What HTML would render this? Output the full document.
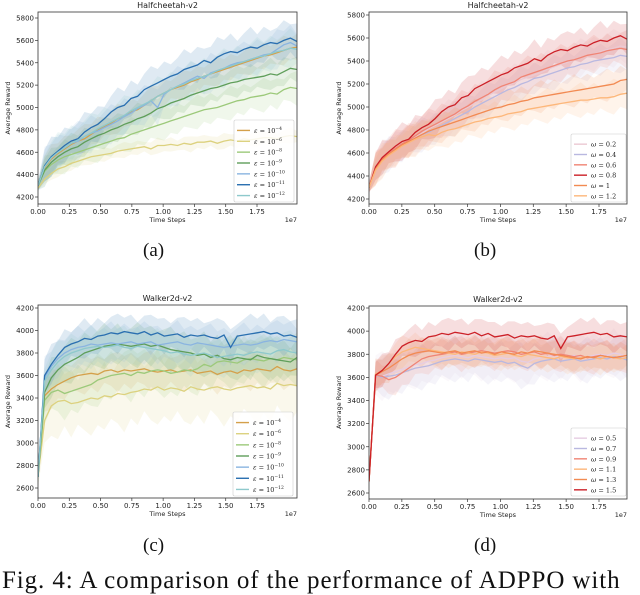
<!DOCTYPE html>
<html><head><meta charset="utf-8"><style>
body{margin:0;background:#fff;width:640px;height:587px;overflow:hidden;position:relative;font-family:"DejaVu Sans","Liberation Sans",sans-serif}
.cap{position:absolute;font-family:"Liberation Serif",serif;font-size:19px;color:#111}
</style></head><body>
<svg id="fig" width="640" height="587" style="position:absolute;left:0;top:0"></svg>
<div class="cap" style="left:143px;top:240px">(a)</div>
<div class="cap" style="left:474px;top:240px">(b)</div>
<div class="cap" style="left:143px;top:535px">(c)</div>
<div class="cap" style="left:474px;top:535px">(d)</div>
<div class="cap" style="left:2px;top:567px;font-size:25px;white-space:nowrap;letter-spacing:0.9px">Fig. 4: A comparison of the performance of ADPPO with</div>
<script>
// ---- data (mean reward per series, 40 samples each) ----
const aLabels=["-4","-6","-8","-9","-10","-11","-12"];
const aColors=["#d4a04a","#dcd17e","#9cc97a","#5f9e5a","#8ab4e0","#2a6fb0","#8ec9cc"];
const aWidths=[110,60,130,120,150,150,150];
const aE4=[4300,4460,4540,4590,4630,4670,4700,4720,4760,4800,4830,4860,4900,4920,4960,4980,5020,5060,5100,5130,5160,5180,5200,5230,5250,5280,5300,5320,5340,5360,5380,5400,5420,5440,5460,5470,5490,5510,5530,5540];
const aE6=[4280,4360,4410,4450,4470,4500,4520,4540,4560,4570,4580,4590,4610,4620,4630,4640,4650,4630,4660,4660,4670,4660,4680,4670,4690,4690,4700,4680,4700,4710,4700,4720,4710,4720,4730,4730,4720,4740,4750,4740];
const aE8=[4300,4430,4490,4530,4560,4580,4600,4620,4640,4660,4680,4700,4720,4730,4760,4780,4800,4820,4840,4860,4880,4900,4920,4940,4960,4980,4990,5000,5020,5040,5060,5070,5090,5100,5110,5130,5120,5160,5180,5170];
const aE9=[4300,4440,4510,4560,4600,4630,4650,4690,4720,4750,4770,4800,4820,4850,4870,4900,4920,4950,4990,5010,5040,5060,5080,5110,5130,5150,5170,5180,5200,5220,5230,5250,5260,5270,5280,5300,5290,5320,5350,5340];
const aE10=[4300,4470,4550,4600,4640,4680,4700,4740,4770,4790,4820,4850,4880,4920,4950,4990,5020,5060,5000,5120,5160,5190,5220,5250,5280,5260,5310,5330,5350,5380,5400,5410,5430,5450,5470,5480,5520,5560,5580,5550];
const aE11=[4300,4480,4560,4610,4660,4700,4720,4780,4820,4850,4900,4960,5000,5020,5080,5100,5160,5190,5220,5250,5280,5300,5340,5360,5380,5420,5400,5450,5480,5500,5490,5520,5540,5530,5560,5580,5570,5600,5620,5590];
const aE12=[4300,4470,4550,4600,4640,4680,4710,4740,4770,4810,4840,4870,4900,4930,4970,5000,5030,5060,5100,5130,5160,5190,5210,5240,5260,5280,5300,5330,5350,5370,5390,5410,5430,5450,5460,5480,5500,5510,5530,5520];

const bLabels=["0.2","0.4","0.6","0.8","1","1.2"];
const bColors=["#ebc9d3","#b9b8e0","#f08474","#cc2027","#f28a52","#fdb77a"];
const bWidths=[140,130,140,140,120,130];
const bW02=[4300,4470,4550,4600,4640,4680,4710,4740,4770,4810,4840,4870,4900,4930,4970,5000,5030,5060,5100,5130,5160,5190,5210,5240,5260,5280,5300,5330,5350,5370,5390,5410,5430,5450,5460,5480,5500,5510,5530,5520];
const bW04=[4300,4460,4540,4590,4630,4660,4700,4730,4760,4780,4810,4840,4870,4900,4930,4960,5000,5030,5060,5090,5120,5150,5170,5200,5220,5250,5260,5280,5300,5320,5340,5350,5370,5380,5400,5410,5420,5430,5450,5440];
const bW06=[4300,4470,4550,4600,4640,4680,4710,4750,4790,4820,4850,4880,4910,4940,4980,5010,5050,5080,5110,5150,5180,5200,5220,5260,5280,5300,5320,5340,5360,5380,5400,5410,5430,5450,5460,5470,5490,5500,5510,5500];
const bW08=[4300,4480,4560,4610,4660,4700,4720,4780,4820,4850,4900,4960,5000,5020,5080,5100,5160,5190,5220,5250,5280,5300,5340,5360,5380,5420,5400,5450,5480,5500,5490,5520,5540,5530,5560,5580,5570,5600,5620,5590];
const bW1=[4300,4460,4540,4590,4630,4670,4700,4730,4760,4790,4810,4830,4850,4870,4890,4910,4930,4950,4970,4990,5000,5020,5030,5050,5060,5080,5090,5100,5110,5120,5130,5140,5150,5160,5170,5180,5190,5200,5230,5240];
const bW12=[4300,4450,4530,4580,4620,4660,4690,4720,4740,4760,4750,4780,4800,4810,4830,4850,4870,4880,4900,4910,4920,4940,4950,4960,4980,4990,5000,5010,5020,5030,5040,5050,5060,5060,5070,5080,5080,5090,5110,5120];

const cColors=aColors;
const cWidths=[150,280,200,170,160,150,160];
const cE4=[2700,3420,3480,3520,3550,3580,3600,3610,3620,3610,3640,3650,3630,3650,3640,3650,3660,3640,3630,3640,3650,3630,3640,3650,3620,3630,3640,3610,3630,3640,3620,3650,3640,3660,3650,3640,3680,3650,3640,3660];
const cE6=[2700,3200,3330,3370,3380,3350,3360,3380,3400,3390,3420,3410,3440,3430,3450,3460,3480,3470,3500,3470,3490,3480,3460,3500,3480,3470,3490,3500,3480,3470,3490,3500,3510,3490,3500,3480,3530,3510,3520,3510];
const cE8=[2700,3380,3450,3470,3440,3460,3480,3500,3520,3560,3580,3600,3610,3620,3600,3630,3620,3640,3650,3640,3620,3630,3650,3640,3660,3700,3680,3720,3730,3720,3710,3740,3750,3740,3730,3750,3740,3760,3750,3740];
const cE9=[2700,3450,3580,3650,3700,3730,3760,3800,3820,3840,3860,3870,3880,3870,3860,3870,3880,3860,3870,3850,3830,3820,3810,3800,3780,3790,3760,3780,3750,3740,3760,3750,3740,3780,3760,3750,3740,3730,3720,3760];
const cE10=[2700,3580,3680,3750,3800,3830,3850,3860,3880,3870,3880,3890,3880,3890,3900,3880,3890,3900,3870,3880,3890,3900,3880,3870,3890,3880,3870,3860,3850,3860,3870,3880,3870,3880,3900,3910,3900,3920,3910,3900];
const cE11=[2700,3600,3700,3780,3850,3880,3900,3930,3920,3950,3960,3980,3970,3990,3980,3970,3990,3960,3980,3950,3960,3970,3940,3960,3950,3960,3940,3930,3960,3850,3950,3960,3970,3980,3990,3970,3980,3950,3960,3940];
const cE12=[2700,3550,3650,3720,3770,3800,3820,3840,3850,3860,3850,3860,3870,3850,3840,3860,3850,3840,3830,3820,3800,3810,3790,3780,3790,3800,3780,3760,3770,3780,3790,3780,3800,3810,3800,3790,3820,3830,3810,3800];

const dLabels=["0.5","0.7","0.9","1.1","1.3","1.5"];
const dColors=["#e6cde3","#b9b8e0","#f08474","#fdb77a","#f28a52","#cc2027"];
const dWidths=[180,170,130,120,120,120];
const dW05=[2700,3620,3610,3630,3650,3670,3690,3710,3720,3740,3750,3770,3780,3790,3780,3770,3790,3780,3770,3760,3770,3760,3770,3740,3730,3760,3770,3780,3790,3770,3780,3790,3770,3780,3790,3800,3790,3810,3800,3780];
const dW07=[2700,3620,3600,3610,3620,3640,3660,3680,3690,3700,3720,3740,3750,3760,3750,3740,3760,3750,3740,3730,3740,3720,3730,3700,3680,3720,3740,3750,3760,3740,3750,3760,3740,3750,3760,3770,3760,3780,3770,3750];
const dW09=[2700,3620,3610,3580,3600,3640,3680,3720,3760,3780,3790,3800,3810,3820,3800,3810,3820,3830,3820,3810,3820,3830,3820,3800,3810,3820,3800,3810,3790,3800,3790,3780,3790,3770,3780,3790,3780,3770,3780,3790];
const dW11=[2700,3630,3660,3720,3780,3820,3840,3860,3850,3840,3830,3820,3810,3800,3820,3810,3800,3820,3810,3790,3800,3810,3790,3780,3800,3790,3780,3770,3760,3780,3770,3760,3770,3780,3770,3760,3780,3770,3760,3770];
const dW13=[2700,3620,3650,3680,3720,3760,3790,3810,3820,3830,3820,3810,3820,3830,3810,3820,3830,3810,3820,3800,3820,3810,3800,3820,3810,3830,3820,3810,3800,3790,3780,3770,3760,3780,3770,3790,3780,3770,3780,3790];
const dW15=[2700,3620,3660,3720,3800,3870,3900,3920,3910,3950,3960,3980,3970,3990,3980,3970,3990,3960,3980,3950,3960,3970,3940,3960,3950,3960,3940,3930,3960,3850,3950,3960,3970,3980,3990,3970,3980,3950,3960,3950];

const xTicks=[0,0.25,0.5,0.75,1.0,1.25,1.5,1.75];
const yTicksHC=[4200,4400,4600,4800,5000,5200,5400,5600,5800];
const yTicksW=[2600,2800,3000,3200,3400,3600,3800,4000,4200];

const NS="http://www.w3.org/2000/svg";
const svg=document.getElementById('fig');
function el(tag,attrs,parent){const e=document.createElementNS(NS,tag);for(const k in attrs)e.setAttribute(k,attrs[k]);(parent||svg).appendChild(e);return e;}

function panel(id,box,title,yTicks,ymin,ymax,xmax,series,colors,widths,sym,labels,sup,legBox){
  const g=el('g',{});
  
  
  const {l,r,t,b,y0px,y1px,x175}=box;
  const xs=v=>l+v*(x175-l)/1.75;
  const ys=v=>y0px+(v-ymin)*(y1px-y0px)/(ymax-ymin);
  const N=series[0].length;
  const xv=i=>i*xmax/(N-1);
  const cp=el('clipPath',{id:'cp'+id},g);el('rect',{x:l,y:t,width:r-l,height:b-t},cp);
  const plot=el('g',{'clip-path':'url(#cp'+id+')'},g);
  series.forEach((s,k)=>{
    let up=[],dn=[];
    s.forEach((v,i)=>{const w=widths[k]*(i==0?0.3:1)*(0.7+0.5*((i*7+k*3)%5)/4);up.push(xs(xv(i)).toFixed(1)+','+ys(v+w).toFixed(1));dn.unshift(xs(xv(i)).toFixed(1)+','+ys(v-w).toFixed(1));});
    const band=el('polygon',{points:up.concat(dn).join(' '),fill:colors[k],'fill-opacity':0.15,stroke:'none'},plot);
    
    
  });
  series.forEach((s,k)=>{
    const pts=s.map((v,i)=>xs(xv(i)).toFixed(1)+','+ys(v).toFixed(1)).join(' ');
    const line=el('polyline',{points:pts,fill:'none',stroke:colors[k],'stroke-width':1.3},plot);
    
    
  });
  el('rect',{x:l,y:t,width:r-l,height:b-t,fill:'none',stroke:'#333','stroke-width':0.8},g);
  xTicks.forEach(v=>{const x=xs(v);el('line',{x1:x,x2:x,y1:b,y2:b+3,stroke:'#333','stroke-width':0.7},g);
    const tx=el('text',{x:x,y:b+10,'font-size':7,'text-anchor':'middle',fill:'#222'},g);tx.textContent=v.toFixed(2);});
  yTicks.forEach(v=>{const y=ys(v);el('line',{x1:l-3,x2:l,y1:y,y2:y,stroke:'#333','stroke-width':0.7},g);
    const tx=el('text',{x:l-4,y:y+2.5,'font-size':7,'text-anchor':'end',fill:'#222'},g);tx.textContent=v;});
  const tt=el('text',{x:(l+r)/2,y:t-4,'font-size':8,'text-anchor':'middle',fill:'#222'},g);tt.textContent=title;
  
  const xl=el('text',{x:(l+r)/2,y:b+18,'font-size':6.5,'text-anchor':'middle',fill:'#222'},g);xl.textContent='Time Steps';
  
  const e7=el('text',{x:r,y:b+18,'font-size':6.5,'text-anchor':'end',fill:'#222'},g);e7.textContent='1e7';
  const yl=el('text',{x:0,y:0,'font-size':6.5,'text-anchor':'middle',fill:'#222',transform:`translate(${l-28},${(t+b)/2}) rotate(-90)`},g);yl.textContent='Average Reward';
  
  const lg=el('g',{},g);
  
  
  el('rect',{x:legBox.x,y:legBox.y,width:legBox.w,height:legBox.h,fill:'#fff','fill-opacity':0.85,stroke:'#ccc','stroke-width':0.6,rx:1.5},lg);
  const step=(legBox.h-6)/labels.length;
  labels.forEach((lab,k)=>{const y=legBox.y+5+step*(k+0.5);
    el('line',{x1:legBox.x+3,x2:legBox.x+16,y1:y,y2:y,stroke:colors[k],'stroke-width':1.4},lg);
    const tx=el('text',{x:legBox.x+20,y:y+2.5,'font-size':6.5,fill:'#222','font-family':'DejaVu Serif,serif'},lg);
    
    if(sup){tx.innerHTML='<tspan font-style="italic">'+sym+'</tspan> = 10<tspan font-size="4.5" dy="-3">'+lab.replace('-','−')+'</tspan>';}
    else{tx.innerHTML='<tspan font-style="italic">'+sym+'</tspan> = ' + lab;}
  });
}
panel('panel-a',{l:38,r:297,t:12,b:204,y0px:197,y1px:18,x175:257},'Halfcheetah-v2',yTicksHC,4200,5800,2.07,
  [aE4,aE6,aE8,aE9,aE10,aE11,aE12],aColors,aWidths,'ε',aLabels,true,{x:234,y:120,w:60,h:82});
panel('panel-b',{l:369,r:627,t:12,b:204,y0px:199,y1px:15,x175:599},'Halfcheetah-v2',yTicksHC,4200,5800,1.963,
  [bW02,bW04,bW06,bW08,bW1,bW12],bColors,bWidths,'ω',bLabels,false,{x:571,y:134,w:55,h:68});
panel('panel-c',{l:38,r:297,t:305,b:498,y0px:488,y1px:308,x175:257},'Walker2d-v2',yTicksW,2600,4200,2.07,
  [cE4,cE6,cE8,cE9,cE10,cE11,cE12],cColors,cWidths,'ε',aLabels,true,{x:233,y:412,w:60,h:84});
panel('panel-d',{l:369,r:627,t:306,b:499,y0px:493,y1px:308,x175:599},'Walker2d-v2',yTicksW,2600,4200,1.963,
  [dW05,dW07,dW09,dW11,dW13,dW15],dColors,dWidths,'ω',dLabels,false,{x:571,y:428,w:55,h:68});
</script>
</body></html>
